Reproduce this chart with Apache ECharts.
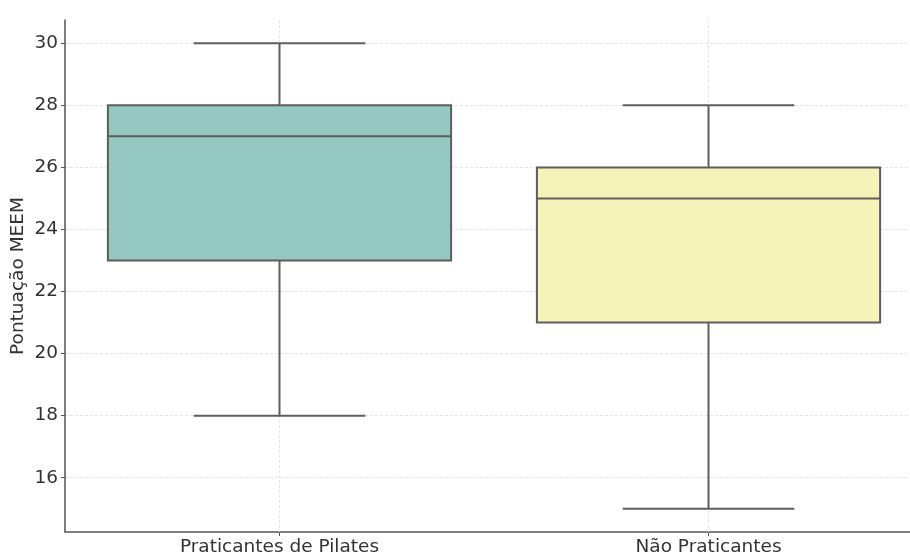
<!DOCTYPE html>
<html>
<head>
<meta charset="utf-8">
<script src="https://cdn.jsdelivr.net/npm/echarts@6/dist/echarts.min.js"></script>
<style>html,body{margin:0;padding:0;background:#fff;}#c{width:910px;height:553px;}</style>
</head>
<body>
<div id="c"></div>
<script>
// ---- data ----
const categories = ['Praticantes de Pilates', 'Não Praticantes'];
const whiskerLow = [18, 15];
const q1 = [23, 21];
const median = [27, 25];
const q3 = [28, 26];
const whiskerHigh = [30, 28];
const yTicks = [16, 18, 20, 22, 24, 26, 28, 30];
const yMin = 14.25, yMax = 30.75;

// ---- styles ----
const boxFills = ['#95c8c0', '#f5f3b8'];
const edge = '#5e5e5e';
const font = 'DejaVu Sans';

const seriesData = categories.map((c, i) => [i, whiskerLow[i], q1[i], median[i], q3[i], whiskerHigh[i]]);

const chart = echarts.init(document.getElementById('c'), null, {renderer: 'canvas'});
chart.setOption({
  animation: false,
  backgroundColor: '#fff',
  grid: {left: 65, right: -13, top: 20, bottom: 21, containLabel: false, outerBoundsMode: 'none'},
  xAxis: {
    type: 'category',
    data: categories,
    boundaryGap: true,
    axisLine: {show: true, lineStyle: {color: '#555', width: 1.5}},
    axisTick: {show: true, alignWithLabel: true, length: 4, lineStyle: {color: '#555'}},
    axisLabel: {color: '#333', fontFamily: font, fontSize: 18.5, margin: 6},
    splitLine: {show: false}
  },
  yAxis: {
    type: 'value',
    min: yMin, max: yMax,
    name: 'Pontuação MEEM',
    nameLocation: 'middle',
    nameRotate: 90,
    nameGap: 37,
    nameMoveOverlap: false,
    nameTextStyle: {color: '#333', fontFamily: font, fontSize: 18.5},
    axisLine: {show: true, lineStyle: {color: '#555', width: 1.5}},
    axisTick: {show: true, length: 4, customValues: yTicks, lineStyle: {color: '#555'}},
    axisLabel: {color: '#333', fontFamily: font, fontSize: 18.5, margin: 7, customValues: yTicks},
    splitLine: {show: true, lineStyle: {color: '#e4e4e4', type: [3, 2], width: 1}}
  },
  series: [{
    type: 'custom',
    data: seriesData,
    encode: {x: 0, y: [1, 2, 3, 4, 5]},
    renderItem: function (params, api) {
      const x = api.value(0);
      const pLo = api.coord([x, api.value(1)]);
      const pQ1 = api.coord([x, api.value(2)]);
      const pMed = api.coord([x, api.value(3)]);
      const pQ3 = api.coord([x, api.value(4)]);
      const pHi = api.coord([x, api.value(5)]);
      const band = api.size([1, 0])[0];
      const bw = band * 0.8;
      const cw = bw / 2;
      const cx = pMed[0];
      const cs = params.coordSys;
      const lineStyle = {stroke: edge, lineWidth: 2, fill: null};
      return {
        type: 'group',
        children: [
          {type: 'line', shape: {x1: cx, y1: cs.y, x2: cx, y2: cs.y + cs.height}, style: {stroke: '#e4e4e4', lineWidth: 1, lineDash: [3, 2]}},
          {type: 'line', shape: {x1: cx, y1: pHi[1], x2: cx, y2: pQ3[1]}, style: lineStyle},
          {type: 'line', shape: {x1: cx, y1: pQ1[1], x2: cx, y2: pLo[1]}, style: lineStyle},
          {type: 'line', shape: {x1: cx - cw / 2, y1: pHi[1], x2: cx + cw / 2, y2: pHi[1]}, style: lineStyle},
          {type: 'line', shape: {x1: cx - cw / 2, y1: pLo[1], x2: cx + cw / 2, y2: pLo[1]}, style: lineStyle},
          {type: 'rect', shape: {x: cx - bw / 2, y: pQ3[1], width: bw, height: pQ1[1] - pQ3[1]}, style: {fill: boxFills[params.dataIndex], stroke: edge, lineWidth: 2}},
          {type: 'line', shape: {x1: cx - bw / 2, y1: pMed[1], x2: cx + bw / 2, y2: pMed[1]}, style: lineStyle}
        ]
      };
    }
  }]
});
</script>
</body>
</html>
